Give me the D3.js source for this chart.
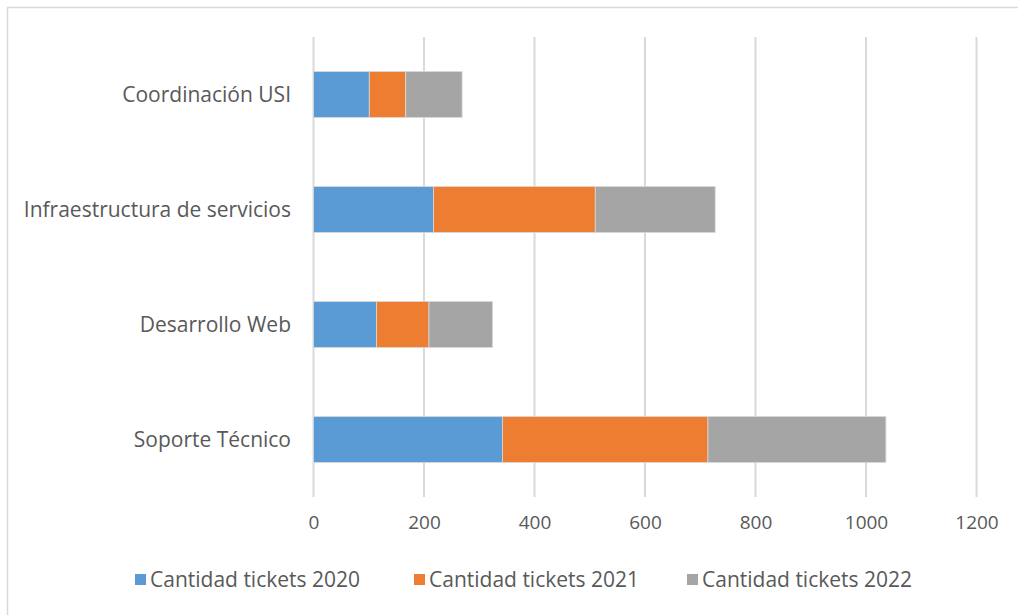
<!DOCTYPE html>
<html>
<head>
<meta charset="utf-8">
<script src="https://cdn.jsdelivr.net/npm/d3@7"></script>
<style>
  body { margin: 0; background: #fff; }
  svg text { font-family: "Open Sans", Lato, sans-serif; fill: #595959; }
</style>
</head>
<body>
<div id="chart"></div>
<script>
// categories top to bottom
var categories = ["Coordinación USI", "Infraestructura de servicios", "Desarrollo Web", "Soporte Técnico"];
var seriesNames = ["Cantidad tickets 2020", "Cantidad tickets 2021", "Cantidad tickets 2022"];
var tickets2020 = [101, 217, 114, 342];
var tickets2021 = [66, 293, 95, 372];
var tickets2022 = [102, 217, 115, 322];
var colors = ["#5b9bd5", "#ed7d31", "#a5a5a5"];
var xTicks = [0, 200, 400, 600, 800, 1000, 1200];

var width = 1018, height = 615;
var plotLeft = 313.5, plotRight = 976.5, plotTop = 37, plotBottom = 497;

var svg = d3.select("#chart")
        .append("svg")
        .attr("width", width)
        .attr("height", height);

// chart border (runs off the right/bottom edge)
svg.append("rect")
        .attr("x", 7.5).attr("y", 7.5)
        .attr("width", 1030).attr("height", 630)
        .attr("fill", "none")
        .attr("stroke", "#d9d9d9")
        .attr("stroke-width", 1.5);

var x = d3.scaleLinear().domain([0, 1200]).range([plotLeft, plotRight]);
var y = d3.scaleBand().domain(categories).range([plotTop, plotBottom]).paddingInner(0.6).paddingOuter(0.3);

// gridlines
svg.append("g").selectAll("line")
        .data(xTicks)
        .join("line")
        .attr("x1", d => x(d)).attr("x2", d => x(d))
        .attr("y1", plotTop).attr("y2", plotBottom)
        .attr("stroke", "#d9d9d9")
        .attr("stroke-width", 2);

var rows = categories.map(function (c, i) {
    return {cat: c, v0: tickets2020[i], v1: tickets2021[i], v2: tickets2022[i]};
});
var stack = d3.stack().keys(["v0", "v1", "v2"]);
var layers = stack(rows);

svg.append("g").selectAll("g")
        .data(layers)
        .join("g")
        .attr("fill", (d, i) => colors[i])
        .selectAll("rect")
        .data(d => d)
        .join("rect")
        .attr("x", d => x(d[0]))
        .attr("width", d => x(d[1]) - x(d[0]))
        .attr("y", d => y(d.data.cat))
        .attr("height", y.bandwidth())
        .attr("stroke", "#d9d9d9")
        .attr("stroke-width", 0.8);

// category labels
svg.append("g").selectAll("text")
        .data(categories)
        .join("text")
        .attr("x", 291)
        .attr("y", d => y(d) + y.bandwidth() / 2)
        .attr("dy", "0.35em")
        .attr("text-anchor", "end")
        .style("font-size", "21px")
        .text(d => d);

// x tick labels
var xAxis = d3.axisBottom(x).tickValues(xTicks).tickSize(0).tickPadding(0).tickFormat(d3.format("d"));
var ax = svg.append("g")
        .attr("transform", "translate(0," + (plotBottom + 18) + ")")
        .call(xAxis);
ax.select(".domain").remove();
ax.selectAll("text")
        .attr("dy", "0.71em")
        .style("font-size", "19px")
        .style("fill", "#595959")
        .style("font-family", "\"Open Sans\", sans-serif");

// legend
var legendX = [135, 414, 687];
var lg = svg.append("g").selectAll("g")
        .data(seriesNames)
        .join("g")
        .attr("transform", (d, i) => "translate(" + legendX[i] + ",580)");
lg.append("rect")
        .attr("x", 0).attr("y", -6)
        .attr("width", 11).attr("height", 11)
        .attr("fill", (d, i) => colors[i]);
lg.append("text")
        .attr("x", 15)
        .attr("dy", "0.35em")
        .style("font-size", "21px")
        .text(d => d);
</script>
</body>
</html>
